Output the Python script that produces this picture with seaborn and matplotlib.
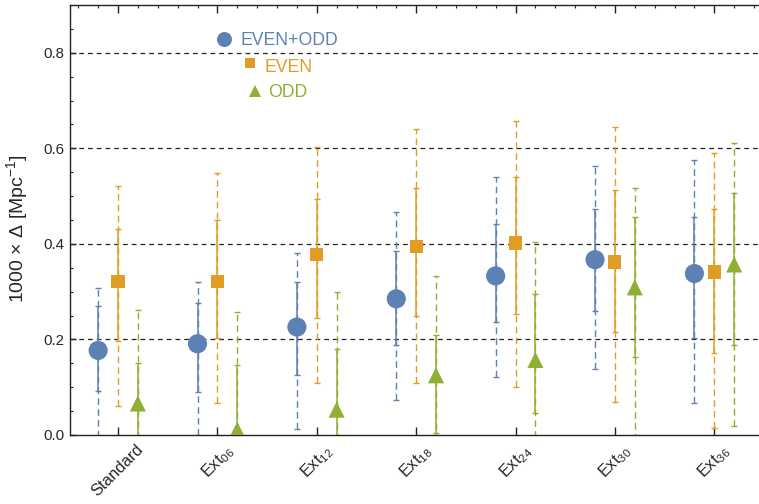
import numpy as np
import pandas as pd
import matplotlib
matplotlib.use("Agg")
import matplotlib.pyplot as plt
import seaborn as sns
from matplotlib.ticker import MultipleLocator

# ---------------- data ----------------
categories = ["Standard", "Ext06", "Ext12", "Ext18", "Ext24", "Ext30", "Ext36"]
tick_labels = ["Standard", r"$\mathregular{Ext_{06}}$", r"$\mathregular{Ext_{12}}$",
               r"$\mathregular{Ext_{18}}$", r"$\mathregular{Ext_{24}}$",
               r"$\mathregular{Ext_{30}}$", r"$\mathregular{Ext_{36}}$"]
series_names = ["EVEN+ODD", "EVEN", "ODD"]

# EVEN+ODD
eo_val = [0.177, 0.191, 0.226, 0.285, 0.333, 0.367, 0.338]
eo_in_lo = [0.093, 0.089, 0.125, 0.189, 0.236, 0.259, 0.203]
eo_in_hi = [0.271, 0.276, 0.320, 0.386, 0.442, 0.473, 0.457]
eo_out_lo = [-0.005, 0.000, 0.012, 0.073, 0.122, 0.139, 0.068]
eo_out_hi = [0.307, 0.320, 0.381, 0.466, 0.540, 0.563, 0.576]

# EVEN
ev_val = [0.322, 0.322, 0.377, 0.395, 0.402, 0.362, 0.341]
ev_in_lo = [0.196, 0.203, 0.245, 0.249, 0.253, 0.216, 0.172]
ev_in_hi = [0.432, 0.450, 0.494, 0.517, 0.540, 0.513, 0.473]
ev_out_lo = [0.061, 0.066, 0.108, 0.108, 0.101, 0.069, 0.015]
ev_out_hi = [0.521, 0.548, 0.603, 0.640, 0.658, 0.644, 0.591]

# ODD
od_val = [0.066, 0.011, 0.053, 0.125, 0.157, 0.309, 0.357]
od_in_lo = [-0.030, -0.100, -0.050, 0.005, 0.047, 0.163, 0.189]
od_in_hi = [0.151, 0.147, 0.180, 0.209, 0.296, 0.457, 0.507]
od_out_lo = [-0.120, -0.200, -0.150, -0.080, -0.050, -0.010, 0.019]
od_out_hi = [0.262, 0.258, 0.299, 0.332, 0.405, 0.518, 0.612]

colors = {"EVEN+ODD": "#5E81B5", "EVEN": "#E19C24", "ODD": "#8FB032"}
offsets = {"EVEN+ODD": -0.2, "EVEN": 0.0, "ODD": 0.2}
markers = {"EVEN+ODD": "o", "EVEN": "s", "ODD": "^"}
sizes = {"EVEN+ODD": 190, "EVEN": 90, "ODD": 135}

data = {
    "EVEN+ODD": (eo_val, eo_in_lo, eo_in_hi, eo_out_lo, eo_out_hi),
    "EVEN": (ev_val, ev_in_lo, ev_in_hi, ev_out_lo, ev_out_hi),
    "ODD": (od_val, od_in_lo, od_in_hi, od_out_lo, od_out_hi),
}

rows = []
for s in series_names:
    for i, c in enumerate(categories):
        rows.append({"category": c, "series": s,
                     "pos": i + offsets[s], "value": data[s][0][i]})
df = pd.DataFrame(rows)

# ---------------- style ----------------
sns.set_style("ticks")
plt.rcParams["font.family"] = ["Liberation Sans", "DejaVu Sans"]
plt.rcParams["mathtext.fontset"] = "custom"
plt.rcParams["mathtext.rm"] = "Liberation Sans"
plt.rcParams["mathtext.it"] = "Liberation Sans:italic"
plt.rcParams["mathtext.bf"] = "Liberation Sans:bold"

fig = plt.figure(figsize=(7.59, 5.04), dpi=100)
ax = fig.add_axes([70 / 759, 69 / 504, 689 / 759, 430 / 504])

# grid lines
for gy in [0.2, 0.4, 0.6, 0.8]:
    ax.axhline(gy, color="#222222", lw=0.9, ls=(0, (3.8, 3.2)), zorder=1)

# error bars
for s in series_names:
    val, ilo, ihi, olo, ohi = [np.array(a) for a in data[s]]
    x = np.arange(len(categories)) + offsets[s]
    eb = ax.errorbar(x, val, yerr=[val - olo, ohi - val], fmt="none",
                     ecolor=colors[s], elinewidth=1.0, capsize=2.5,
                     capthick=1.0, zorder=2)
    for lc in eb[2]:
        lc.set_linestyle((0, (4.8, 3)))
    ax.errorbar(x, val, yerr=[val - ilo, ihi - val], fmt="none",
                ecolor=colors[s], elinewidth=1.1, capsize=2.5,
                capthick=1.0, zorder=2.5)

# markers
sns.scatterplot(data=df, x="pos", y="value", hue="series", style="series",
                size="series", palette=colors, markers=markers, sizes=sizes,
                hue_order=series_names, style_order=series_names,
                size_order=series_names, linewidth=0, legend=False,
                ax=ax, zorder=3)

# axes
ax.set_xlim(-0.483, 6.45)
ax.set_ylim(0, 0.9)
ax.set_xticks(range(len(categories)))
ax.set_xticklabels(tick_labels, rotation=45, ha="center", va="top", fontsize=11.8)
ax.xaxis.set_minor_locator(MultipleLocator(0.2))
ax.set_yticks([0.0, 0.2, 0.4, 0.6, 0.8])
ax.set_yticklabels(["0.0", "0.2", "0.4", "0.6", "0.8"], fontsize=10.8)
ax.yaxis.set_minor_locator(MultipleLocator(0.05))
ax.set_xlabel("")
ax.set_ylabel("1000 × Δ [Mpc$^{-1}$]", fontsize=14)
ax.yaxis.set_label_coords(-0.058, 0.479)

ax.tick_params(axis="x", which="major", direction="in", length=5.5, width=1,
               color="#222222", top=True, bottom=True, pad=5)
ax.tick_params(axis="x", which="minor", direction="in", length=2.5, width=0.8,
               color="#222222", top=True, bottom=False)
ax.tick_params(axis="y", which="major", direction="in", length=4, width=1,
               color="#222222", left=True, right=False, pad=4)
ax.tick_params(axis="y", which="minor", direction="in", length=2.5, width=0.8,
               color="#222222", left=True, right=False)

for side in ["left", "bottom", "top"]:
    ax.spines[side].set_color("#222222")
    ax.spines[side].set_linewidth(1.0)
ax.spines["right"].set_visible(False)

# custom legend
W, H = 759.0, 504.0
leg = [("EVEN+ODD", "o", 224, 38.5, 10.8, 240, 45.0),
       ("EVEN", "s", 250, 62.5, 7.3, 264, 71.7),
       ("ODD", "^", 255, 90.5, 9.0, 268.5, 97.2)]
for name, mk, mx, my, ms, tx, ty in leg:
    ax.plot([mx / W], [1 - my / H], marker=mk, ms=ms, color=colors[name],
            mew=0, transform=fig.transFigure, clip_on=False, ls="none")
    fig.text(tx / W, 1 - ty / H, name, color=colors[name], fontsize=12.7,
             ha="left", va="baseline")

fig.savefig("out.png", dpi=100)
